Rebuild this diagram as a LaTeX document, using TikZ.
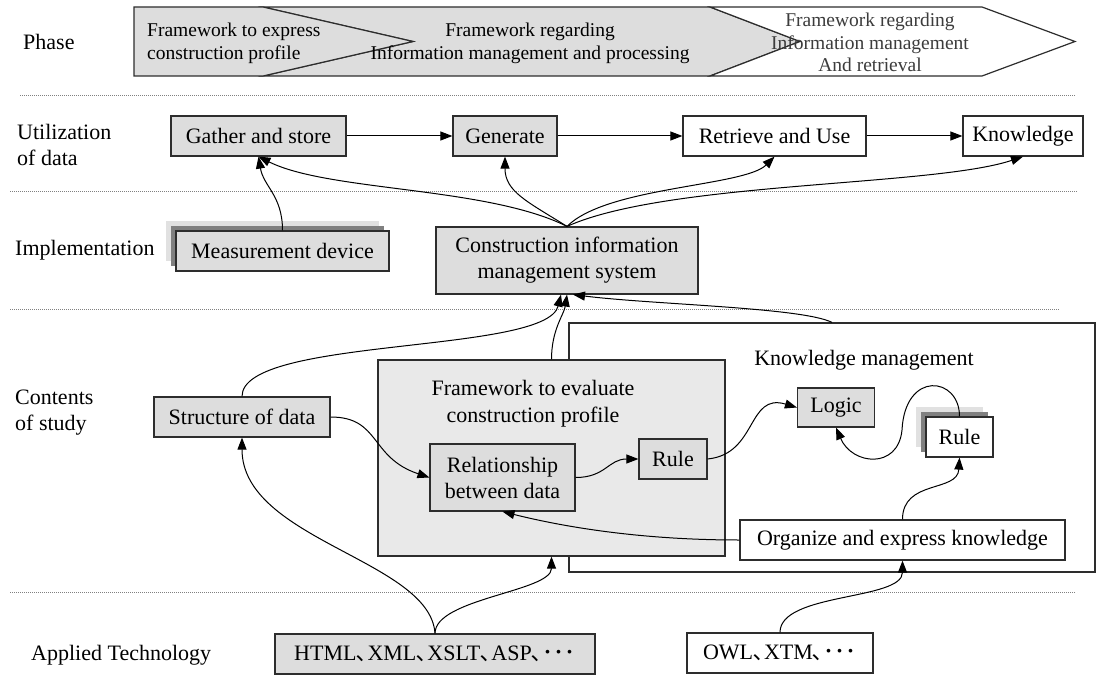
\documentclass[tikz,border=0pt]{standalone}
\usepackage{fontspec}
\setmainfont{Liberation Serif}
\newfontfamily\cjk{Noto Sans CJK SC}
\usetikzlibrary{arrows.meta,shadows,calc}

\definecolor{boxgray}{RGB}{221,221,221}
\definecolor{fwgray}{RGB}{233,233,233}
\definecolor{boxline}{RGB}{45,45,45}
\definecolor{shadowdark}{RGB}{128,128,128}
\definecolor{shadowlight}{RGB}{225,225,225}
\definecolor{textgray}{RGB}{60,60,60}

\newcommand{\jcomma}{{\cjk ､}}
\newcommand{\jdots}{{\cjk ･･･}}

\tikzset{
  every node/.style={font=\fontsize{22}{26}\selectfont},
  plainbox/.style={draw=boxline, line width=1.2pt, fill=white, inner sep=0pt, align=center},
  graybox/.style={plainbox, fill=boxgray},
  shadowbox/.style={general shadow={shadow xshift=-10pt, shadow yshift=10pt, fill=shadowlight},
                    general shadow={shadow xshift=-5pt, shadow yshift=5pt, fill=shadowdark}},
  rowlabel/.style={anchor=west, align=left, inner sep=0pt},
  phasetext/.style={inner sep=0pt, font=\fontsize{19.5}{23}\selectfont},
  chevron/.style={draw=boxline, line width=1.2pt},
  link/.style={-{Triangle[length=12pt,width=9pt]}, line width=1pt},
  sep/.style={gray, dash pattern=on 1pt off 1pt, line width=0.7pt},
}

\begin{document}
\begin{tikzpicture}[x=1pt, y=-1pt]
  \useasboundingbox (0,0) rectangle (1097,679);

  % phase arrows
  \draw[chevron, fill=boxgray] (263,7) -- (710,7) -- (800,41.5) -- (710,76) -- (263,76) -- (413,41.5) -- cycle;
  \draw[chevron, fill=boxgray] (134,7) -- (263,7) -- (413,41.5) -- (263,76) -- (134,76) -- cycle;
  \draw[chevron, fill=white] (710,7) -- (982,7) -- (1075,41.5) -- (982,76) -- (710,76) -- (800,41.5) -- cycle;
  \node[phasetext, anchor=west, align=left] (ph1) at (147,43.5) {Framework to express\\construction profile};
  \node[phasetext, align=center] (ph2) at (530,43.5) {Framework regarding\\Information management and processing};
  \node[phasetext, align=center, text=textgray, font=\fontsize{19.5}{22.5}\selectfont] (ph3) at (870,42.5) {Framework regarding\\Information management\\And retrieval};

  % separators
  \draw[sep] (20,95) -- (1075,95);
  \draw[sep] (10,191) -- (1078,191);
  \draw[sep] (10,309) -- (1060,309);
  \draw[sep] (10,592) -- (1075,592);

  % row labels
  \node[rowlabel] (lphase) at (23,41.5) {Phase};
  \node[rowlabel] (lutil) at (17,145) {Utilization\\of data};
  \node[rowlabel] (limpl) at (15,250) {Implementation};
  \node[rowlabel] (lcont) at (15,413) {Contents\\of study};
  \node[rowlabel] (lapp) at (31,655) {Applied Technology};

  % utilization of data
  \node[graybox, minimum width=175pt, minimum height=40pt] (gather) at (258.5,136) {Gather and store};
  \node[graybox, minimum width=104pt, minimum height=40pt] (gen) at (505,136) {Generate};
  \node[plainbox, minimum width=183pt, minimum height=40pt] (ret) at (774.5,136) {Retrieve and Use};
  \node[plainbox, minimum width=120pt, minimum height=40pt] (know) at (1023,136) {Knowledge};

  % implementation
  \node[graybox, shadowbox, minimum width=213pt, minimum height=40pt] (meas) at (282.5,251) {Measurement device};
  \node[graybox, minimum width=262pt, minimum height=67pt] (cims) at (567,260.5) {Construction information\\management system};

  % contents of study
  \node[plainbox, minimum width=526pt, minimum height=249pt] (km) at (832,447.5) {};
  \node (kmlabel) at (864,360) {Knowledge management};
  \node[plainbox, fill=fwgray, minimum width=347pt, minimum height=196pt] (fw) at (551.5,458) {};
  \node[align=center, font=\fontsize{22}{27}\selectfont] (fwlabel) at (533,403.5) {Framework to evaluate\\construction profile};
  \node[graybox, minimum width=176pt, minimum height=40pt] (struct) at (242,417) {Structure of data};
  \node[graybox, minimum width=145pt, minimum height=67pt] (rel) at (502.5,477.5) {Relationship\\between data};
  \node[graybox, minimum width=68pt, minimum height=40pt] (rule1) at (673,459) {Rule};
  \node[graybox, minimum width=77pt, minimum height=39pt] (logic) at (836,407.5) {Logic};
  \node[plainbox, shadowbox, minimum width=67pt, minimum height=40pt] (rule2) at (959.5,437) {Rule};
  \node[plainbox, minimum width=325pt, minimum height=40pt] (org) at (902.5,540) {Organize and express knowledge};

  % applied technology
  \node[graybox, minimum width=320pt, minimum height=40pt] (html) at (435,654) {HTML\jcomma XML\jcomma XSLT\jcomma ASP\jcomma\jdots};
  \node[plainbox, minimum width=186pt, minimum height=40pt] (owl) at (780,653) {OWL\jcomma XTM\jcomma\jdots};

  % connectors
  \draw[link] (gather.east) -- (gen.west);
  \draw[link] (gen.east) -- (ret.west);
  \draw[link] (ret.east) -- (know.west);
  \draw[link] (meas.north) .. controls +(0,-35) and +(5,30) .. (gather.south);
  \draw[link] (cims.north) .. controls +(-80,-40) and +(70,35) .. (gather.south);
  \draw[link] (cims.north) .. controls +(-40,-25) and +(0,35) .. (gen.south);
  \draw[link] (cims.north) .. controls +(40,-40) and +(-30,30) .. (ret.south);
  \draw[link] (cims.north) .. controls +(100,-45) and +(-90,30) .. (know.south);
  \draw[link] (struct.north) .. controls +(0,-60) and +(-15,60) .. ($(cims.south)+(-6,0)$);
  \draw[link] (fw.north) .. controls +(0,-30) and +(-3,20) .. (cims.south);
  \draw[link] (km.north) .. controls +(-30,-15) and +(80,10) .. ($(cims.south)+(6,0)$);
  \draw[link] (struct.east) .. controls +(50,0) and +(-60,-20) .. (rel.west);
  \draw[link] (rel.east) .. controls +(30,0) and +(-30,0) .. (rule1.west);
  \draw[link] (rule1.east) .. controls +(50,-5) and +(-50,-15) .. (logic.west);
  \draw[link] (rule2.north) .. controls +(0,-40) and (905,370) .. (902,430) .. controls (898,470) and (852,465) .. (logic.south);
  \draw[link] (org.north) .. controls +(0,-40) and +(-2,35) .. (rule2.south);
  \draw[link] (org.west) .. controls +(-100,0) and +(60,15) .. (rel.south);
  \draw[link] (html.north) .. controls (430,560) and (242,540) .. (struct.south);
  \draw[link] (html.north) .. controls +(0,-35) and +(0,35) .. (fw.south);
  \draw[link] (owl.north) .. controls +(0,-40) and +(0,40) .. (org.south);
\end{tikzpicture}
\end{document}
